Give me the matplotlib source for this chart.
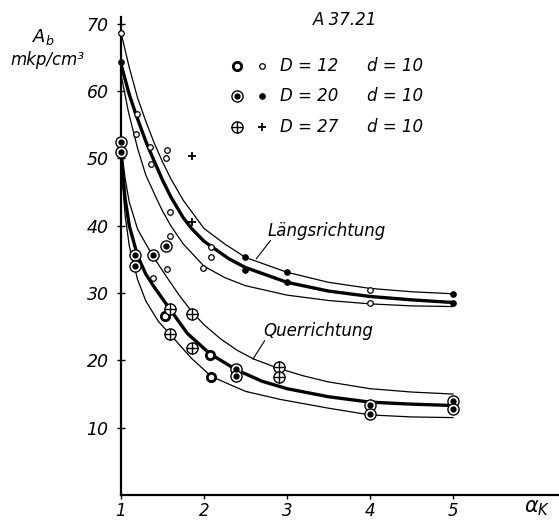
import matplotlib
matplotlib.use("Agg")
import matplotlib.pyplot as plt
import numpy as np

plt.rcParams['font.family'] = ['DejaVu Sans']
plt.rcParams['font.style'] = 'italic'
plt.rcParams['mathtext.fontset'] = 'dejavusans'
plt.rcParams['mathtext.default'] = 'it'

# --- curves (alpha_K, A_b) ---
laengs_upper_x = [1.0, 1.1, 1.2, 1.3, 1.4, 1.5, 1.6, 1.75, 2.0, 2.25, 2.5, 3.0, 3.5, 4.0, 4.5, 5.0]
laengs_upper_y = [68.7, 63.5, 59.0, 55.5, 52.3, 49.5, 47.0, 43.8, 39.6, 37.3, 35.3, 33.1, 31.6, 30.7, 30.2, 29.9]

laengs_mid_x = [1.0, 1.1, 1.17, 1.3, 1.39, 1.5, 1.6, 1.75, 1.85, 2.0, 2.3, 2.5, 3.0, 3.5, 4.0, 4.5, 5.0]
laengs_mid_y = [64.0, 59.5, 56.9, 52.5, 49.9, 46.8, 44.3, 41.2, 39.6, 37.7, 35.1, 33.8, 31.6, 30.3, 29.5, 29.0, 28.6]

laengs_low_x = [1.0, 1.09, 1.2, 1.3, 1.43, 1.5, 1.6, 1.75, 2.0, 2.25, 2.5, 3.0, 3.5, 4.0, 4.5, 5.0]
laengs_low_y = [62.5, 56.9, 51.5, 47.5, 44.0, 42.2, 40.0, 37.3, 34.0, 32.3, 31.1, 29.7, 28.9, 28.4, 28.1, 28.0]

quer_upper_x = [1.0, 1.05, 1.1, 1.2, 1.3, 1.4, 1.55, 1.7, 1.85, 2.0, 2.2, 2.4, 2.6, 2.9, 3.2, 3.5, 4.0, 4.5, 5.0]
quer_upper_y = [52.0, 47.0, 43.5, 39.5, 37.3, 35.2, 32.4, 29.7, 27.3, 25.3, 23.2, 21.5, 20.2, 18.8, 17.7, 16.8, 15.8, 15.3, 15.0]

quer_mid_x = [1.0, 1.05, 1.1, 1.2, 1.3, 1.4, 1.59, 1.8, 2.07, 2.39, 2.7, 3.0, 3.5, 4.0, 4.5, 5.0]
quer_mid_y = [50.5, 44.0, 40.0, 35.5, 32.8, 30.9, 27.6, 24.0, 21.0, 18.6, 16.9, 15.8, 14.6, 13.8, 13.5, 13.3]

quer_low_x = [1.0, 1.05, 1.1, 1.2, 1.3, 1.45, 1.59, 1.85, 2.09, 2.5, 2.92, 3.5, 4.0, 4.5, 5.0]
quer_low_y = [49.5, 41.5, 37.0, 32.0, 28.8, 25.8, 23.9, 20.3, 17.6, 15.4, 14.2, 12.9, 11.9, 11.6, 11.5]

# --- measured points ---
l12_x = [1.0, 1.19, 1.18, 1.35, 1.36, 1.55, 1.54, 1.59, 1.59, 2.09, 2.09, 1.99, 1.55, 1.39, 4.0, 4.0]
l12_y = [68.7, 56.6, 53.6, 51.7, 49.2, 51.2, 50.1, 42.0, 38.5, 36.8, 35.3, 33.7, 33.6, 32.2, 30.4, 28.5]
l20_x = [1.0, 2.49, 2.49, 3.0, 3.0, 5.0, 5.0]
l20_y = [64.3, 35.3, 33.4, 33.1, 31.6, 29.9, 28.6]
l27_x = [1.86, 1.85]
l27_y = [50.4, 40.5]

q12_x = [2.07, 2.09, 1.53]
q12_y = [20.8, 17.6, 26.6]
q20_x = [1.0, 1.0, 1.17, 1.17, 1.38, 1.54, 2.39, 2.39, 4.0, 4.0, 5.0, 5.0]
q20_y = [52.4, 50.9, 35.6, 34.1, 35.7, 37.0, 18.7, 17.7, 13.3, 12.0, 14.0, 12.8]
q27_x = [1.59, 1.85, 1.59, 1.85, 2.9, 2.9]
q27_y = [27.6, 26.9, 23.9, 21.9, 19.0, 17.6]

legend_labels = ["D = 12", "D = 20", "D = 27"]
legend_d = ["d = 10", "d = 10", "d = 10"]

fig = plt.figure(figsize=(5.59, 5.22), dpi=100)
ax = fig.add_axes([121/559, 27/522, 438/559, 478/522])
ax.set_xlim(1, 1 + 438/83)
ax.set_ylim(0, 478/6.73)

thin = dict(color='black', lw=0.9)
thick = dict(color='black', lw=2.4)
ax.plot(laengs_upper_x, laengs_upper_y, **thin)
ax.plot(laengs_mid_x, laengs_mid_y, **thick)
ax.plot(laengs_low_x, laengs_low_y, **thin)
ax.plot(quer_upper_x, quer_upper_y, **thin)
ax.plot(quer_mid_x, quer_mid_y, **thick)
ax.plot(quer_low_x, quer_low_y, **thin)


def m_small_open(a, x, y, **kw):
    a.plot(x, y, 'o', ms=4, mfc='white', mec='black', mew=0.9, ls='none', zorder=5, **kw)


def m_small_dot(a, x, y, **kw):
    a.plot(x, y, 'o', ms=3.8, color='black', ls='none', zorder=5, **kw)


def m_plus(a, x, y, **kw):
    a.plot(x, y, '+', ms=6, mew=1.3, color='black', ls='none', zorder=5, **kw)


def m_bold(a, x, y, **kw):
    a.plot(x, y, 'o', ms=6, mfc='white', mec='black', mew=2.0, ls='none', zorder=5, **kw)


def m_double(a, x, y, **kw):
    a.plot(x, y, 'o', ms=8, mfc='white', mec='black', mew=1.0, ls='none', zorder=5, **kw)
    a.plot(x, y, 'o', ms=3.5, mfc='black', mec='black', ls='none', zorder=6, **kw)


def m_oplus(a, x, y, **kw):
    a.plot(x, y, 'o', ms=8, mfc='white', mec='black', mew=1.0, ls='none', zorder=5, **kw)
    a.plot(x, y, '+', ms=8, mew=1.0, color='black', ls='none', zorder=6, **kw)


m_small_open(ax, l12_x, l12_y, clip_on=False)
m_small_dot(ax, l20_x, l20_y, clip_on=False)
m_plus(ax, l27_x, l27_y, clip_on=False)
m_bold(ax, q12_x, q12_y, clip_on=False)
m_double(ax, q20_x, q20_y, clip_on=False)
m_oplus(ax, q27_x, q27_y, clip_on=False)

# legend built by hand
big = [m_bold, m_double, m_oplus]
small = [m_small_open, m_small_dot, m_plus]
rows = [0.897, 0.835, 0.770]
for i in range(3):
    big[i](ax, [0.265], [rows[i]], transform=ax.transAxes, clip_on=False)
    small[i](ax, [0.322], [rows[i]], transform=ax.transAxes, clip_on=False)
    ax.text(0.363, rows[i], legend_labels[i], transform=ax.transAxes,
            fontsize=12, va='center', ha='left')
    ax.text(0.562, rows[i], legend_d[i], transform=ax.transAxes,
            fontsize=12, va='center', ha='left')

# curve labels
ax.text(2.76, 39.3, "Längsrichtung", fontsize=12, va='center', ha='left')
ax.plot([2.63, 2.8], [35.1, 37.8], color='black', lw=0.8)
ax.text(2.71, 24.4, "Querrichtung", fontsize=12, va='center', ha='left')
ax.plot([2.59, 2.73], [20.2, 22.9], color='black', lw=0.8)

for s in ['top', 'right']:
    ax.spines[s].set_visible(False)
ax.spines['left'].set_linewidth(1.6)
ax.spines['bottom'].set_linewidth(1.6)

ax.set_xticks([1, 2, 3, 4, 5])
ax.set_yticks([10, 20, 30, 40, 50, 60, 70])
ax.tick_params(axis='y', direction='inout', length=6, width=1, pad=6, labelsize=12.5)
ax.tick_params(axis='x', direction='out', length=3, width=1, pad=2, labelsize=12)

fig.text(345/559, 1 - 20/522, "A 37.21", fontsize=12, ha='center', va='center')
fig.text(43/559, 1 - 37/522, r"$A_b$", fontsize=13, ha='center', va='center')
fig.text(47/559, 1 - 60/522, "mkp/cm³", fontsize=12, ha='center', va='center')
fig.text(537/559, 1 - 508/522, r"$\alpha_K$", fontsize=15, ha='center', va='center')

fig.savefig("out.png", dpi=100)
